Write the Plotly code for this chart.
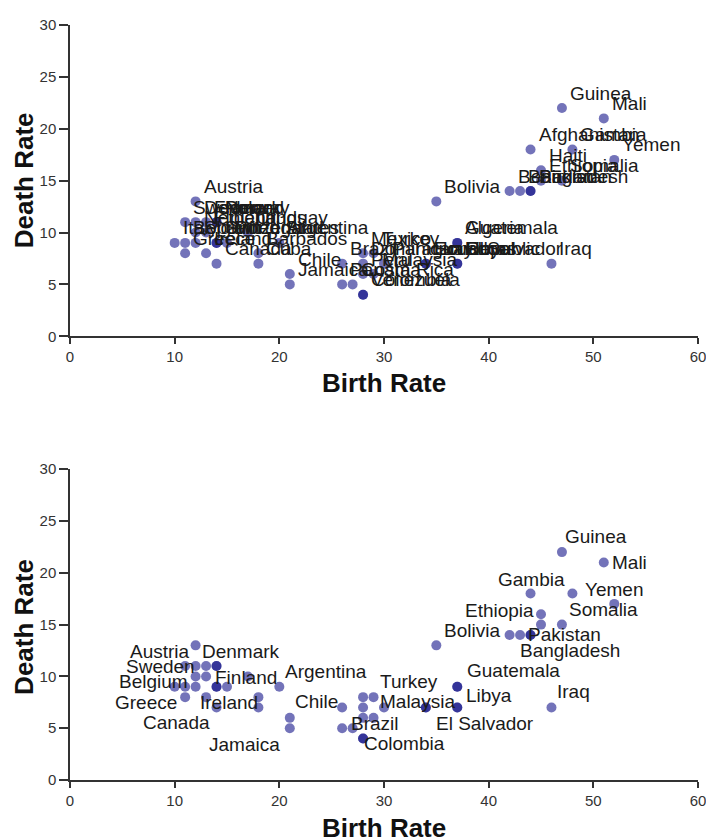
import plotly.graph_objects as go

# ---------------- data ----------------
countries = [
    "Austria", "Sweden", "Denmark", "France", "Norway", "Poland",
    "Netherlands", "Finland", "Italy", "Belgium", "Spain", "Switzerland",
    "United States", "Portugal", "Greece", "Ireland", "Canada", "Uruguay",
    "Barbados", "Cuba", "Argentina", "Chile", "Jamaica",
    "Brazil", "Panama", "Costa Rica", "Colombia", "Venezuela",
    "Mexico", "Dominican Republic", "Peru", "Turkey", "Malaysia", "Paraguay",
    "Ecuador", "Honduras", "El Salvador", "Libya", "Guatemala", "Algeria",
    "Iraq", "Bolivia", "Benin", "Bangladesh", "Pakistan", "Sudan",
    "Afghanistan", "Haiti", "Ethiopia", "Somalia", "Guinea", "Gambia",
    "Mali", "Yemen",
]
birth_rate = [
    12, 11, 12, 13, 14, 14,
    12, 13, 10, 11, 12, 14,
    14, 15, 11, 13, 14, 17,
    18, 18, 20, 21, 21,
    26, 26, 27, 28, 28,
    28, 28, 28, 29, 29, 30,
    34, 34, 37, 37, 37, 37,
    46, 35, 42, 43, 44, 44,
    44, 45, 45, 47, 47, 48,
    51, 52,
]
death_rate = [
    13, 11, 11, 11, 11, 11,
    10, 10, 9, 9, 9, 9,
    9, 9, 8, 8, 7, 10,
    8, 7, 9, 6, 5,
    7, 5, 5, 4, 4,
    8, 7, 6, 8, 6, 7,
    7, 7, 7, 7, 9, 9,
    7, 13, 14, 14, 14, 14,
    18, 16, 15, 15, 22, 18,
    21, 17,
]

x_ticks = [0, 10, 20, 30, 40, 50, 60]
y_ticks = [0, 5, 10, 15, 20, 25, 30]
x_title = "Birth Rate"
y_title = "Death Rate"

# label offsets (pixels) for the decluttered lower chart: name -> (xshift, yshift)
placed_labels = {
    "Austria": (-36, -6), "Denmark": (45, 15), "Sweden": (-25, 0),
    "Belgium": (-32, 5), "Finland": (40, -1), "Argentina": (47, 15),
    "Greece": (-39, -5), "Ireland": (23, -5), "Chile": (27, 16),
    "Canada": (-40, -15), "Jamaica": (-45, -16), "Brazil": (33, -16),
    "Colombia": (41, -5), "Turkey": (35, 16), "Malaysia": (44, 16),
    "El Salvador": (28, -16), "Libya": (32, 12), "Guatemala": (56, 16),
    "Iraq": (22, 16), "Bolivia": (36, 15), "Ethiopia": (-42, 14),
    "Pakistan": (34, 0), "Bangladesh": (50, -16), "Gambia": (-41, 14),
    "Somalia": (42, 15), "Yemen": (0, 14), "Guinea": (34, 16),
    "Mali": (26, 0),
}
# fixed offset of every label in the upper (unplaced) chart
naive_shift = (6, 15)

# ---------------- figure ----------------
FONT = "Liberation Sans, Arial, Helvetica, sans-serif"
marker_style = dict(size=10, color="rgba(0,0,128,0.55)", line=dict(width=0))
label_font = dict(family=FONT, size=19, color="#1a1a1a")

fig = go.Figure()

fig.add_trace(go.Scatter(
    x=birth_rate, y=death_rate, text=countries,
    mode="markers", marker=marker_style,
    xaxis="x", yaxis="y", cliponaxis=False, hoverinfo="text",
))

fig.add_trace(go.Scatter(
    x=birth_rate, y=death_rate, text=countries,
    mode="markers", marker=marker_style,
    xaxis="x2", yaxis="y2", cliponaxis=False, hoverinfo="text",
))

annotations = []
for name, bx, dy in zip(countries, birth_rate, death_rate):
    annotations.append(dict(
        x=bx, y=dy, xref="x", yref="y", text=name, showarrow=False,
        xshift=naive_shift[0], yshift=naive_shift[1],
        xanchor="left", yanchor="middle", font=label_font,
    ))
    if name in placed_labels:
        xs, ys = placed_labels[name]
        annotations.append(dict(
            x=bx, y=dy, xref="x2", yref="y2", text=name, showarrow=False,
            xshift=xs, yshift=ys, xanchor="center", yanchor="middle",
            font=label_font,
        ))

title_font = dict(family=FONT, size=26, color="#111")
for ty in (0.526, -0.063):
    annotations.append(dict(x=0.5, y=ty, xref="paper", yref="paper",
                            text=f"<b>{x_title}</b>", showarrow=False,
                            xanchor="center", yanchor="middle", font=title_font))
for ty in (0.7945, 0.203):
    annotations.append(dict(x=-0.073, y=ty, xref="paper", yref="paper",
                            text=f"<b>{y_title}</b>", showarrow=False,
                            textangle=-90, xanchor="center", yanchor="middle",
                            font=title_font))

axis_common = dict(
    showline=True, linecolor="#333", linewidth=1.5,
    ticks="outside", tickwidth=1.5, tickcolor="#333",
    showgrid=False, zeroline=False, ticklabeloverflow="allow",
    tickfont=dict(family=FONT, size=15, color="#333"),
)
x_axis_style = dict(ticklen=6, **axis_common)
y_axis_style = dict(ticklen=9, **axis_common)

# the page adds an 8px body margin, so the figure is sized to fill the window
fig.update_layout(
    width=706, height=829,
    margin=dict(l=62, r=8, t=8, b=57),
    paper_bgcolor="white", plot_bgcolor="white",
    showlegend=False,
    xaxis=dict(domain=[0, 1], range=[0, 60], tickvals=x_ticks, anchor="y", **x_axis_style),
    yaxis=dict(domain=[0.5877, 1], range=[0, 30], tickvals=y_ticks, anchor="x", **y_axis_style),
    xaxis2=dict(domain=[0, 1], range=[0, 60], tickvals=x_ticks, anchor="y2", **x_axis_style),
    yaxis2=dict(domain=[0, 0.4116], range=[0, 30], tickvals=y_ticks, anchor="x2", **y_axis_style),
    annotations=annotations,
)

fig.write_html("out.html")
